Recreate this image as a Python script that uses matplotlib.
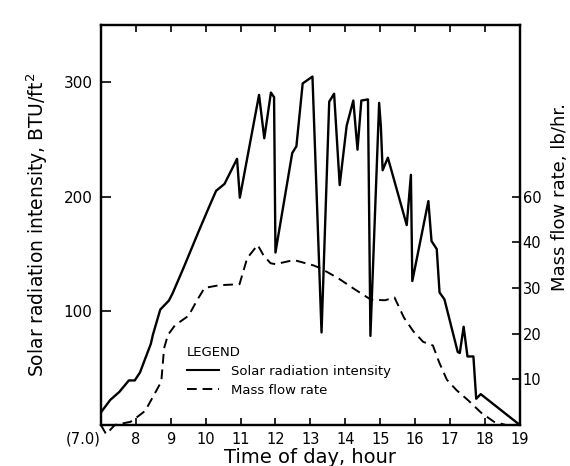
import matplotlib
matplotlib.use("Agg")
import matplotlib.pyplot as plt
from matplotlib.lines import Line2D

# solar radiation intensity (BTU/ft^2)
solar_hour = [7.0, 7.27, 7.53, 7.8, 7.97, 8.12, 8.43, 8.49, 8.7, 8.95, 9.05, 9.36,
              9.78, 10.1, 10.3, 10.54, 10.9, 10.98, 11.53, 11.68, 11.87, 11.96, 12.0,
              12.48, 12.6, 12.78, 13.06, 13.32, 13.54, 13.68, 13.84, 14.04, 14.23,
              14.35, 14.46, 14.65, 14.72, 14.97, 15.02, 15.07, 15.22, 15.76, 15.88,
              15.92, 16.38, 16.47, 16.62, 16.7, 16.84, 17.22, 17.28, 17.39, 17.5,
              17.67, 17.75, 17.88, 19.0]
solar_value = [11, 22, 29, 39, 39, 46, 71, 79, 101, 109, 115, 137,
               168, 191, 205, 211, 233, 199, 289, 251, 291, 287, 151,
               238, 244, 299, 305, 81, 283, 290, 210, 262, 284,
               241, 284, 285, 78, 282, 261, 223, 234, 175, 219,
               126, 196, 161, 154, 116, 110, 64, 63, 86, 60,
               60, 23, 27, 0]

# mass flow rate (lb/hr)
mass_hour = [7.0, 7.15, 7.4, 7.85, 7.98, 8.27, 8.58, 8.73, 8.81, 8.92, 9.12, 9.51,
             9.77, 9.97, 10.4, 10.97, 11.19, 11.49, 11.66, 11.86, 12.0, 12.53, 13.1,
             13.29, 13.8, 14.27, 14.74, 15.14, 15.41, 15.68, 15.95, 16.23, 16.51,
             16.69, 16.91, 17.19, 17.52, 17.89, 18.26, 18.6]
mass_value = [0, -2, 0, 0.7, 1.4, 3.1, 7.4, 9.5, 16.8, 19.7, 21.8, 23.9,
              27.5, 30.0, 30.6, 30.8, 36.5, 39.4, 37.1, 35.4, 35.2, 36.1, 34.9,
              34.3, 32.1, 29.7, 27.4, 27.3, 27.9, 23.5, 20.5, 18.2, 17.4,
              13.7, 9.9, 7.6, 5.4, 2.7, 0.7, 0]

x_ticks = list(range(7, 20))
x_labels = ["(7.0)"] + [str(h) for h in range(8, 20)]
left_ticks = [100, 200, 300]
right_ticks = [10, 20, 30, 40, 50]
right_labels = ["10", "20", "30", "40", "60"]

fig = plt.figure(figsize=(5.7, 4.66), dpi=100)
ax = fig.add_axes([0.177, 0.088, 0.735, 0.858])
ax2 = ax.twinx()

ax.plot(solar_hour, solar_value, color="black", lw=1.7)
ax2.plot(mass_hour, mass_value, color="black", lw=1.4, dashes=(5, 3), clip_on=False)

ax.set_xlim(7, 19)
ax.set_ylim(0, 350)
ax2.set_ylim(0, 87.5)

ax.set_xticks(x_ticks)
ax.set_xticklabels(x_labels, fontsize=10.5)
ax.get_xticklabels()[0].set_ha("right")
ax.set_yticks(left_ticks)
ax.set_yticklabels([str(v) for v in left_ticks], fontsize=11)
ax.tick_params(axis="both", direction="in", length=7, width=1.2, top=True)
ax.tick_params(axis="x", pad=5, length=5)
ax.tick_params(axis="y", pad=6)
ax2.set_yticks(right_ticks)
ax2.set_yticklabels(right_labels, fontsize=10.5)
ax2.tick_params(axis="y", direction="in", length=6, width=1.2, pad=2)

for a in (ax, ax2):
    for s in a.spines.values():
        s.set_linewidth(1.6)

ax.set_xlabel("Time of day, hour", fontsize=14, labelpad=1)
ax.set_ylabel(r"Solar radiation intensity, BTU/ft$^2$", fontsize=13.5, labelpad=10)
ax2.set_ylabel("Mass flow rate, lb/hr.", fontsize=13, rotation=90)
ax2.yaxis.set_label_coords(1.075, 0.57)

handles = [Line2D([], [], color="black", lw=1.5),
           Line2D([], [], color="black", lw=1.4, dashes=(5, 3))]
leg = ax.legend(handles, ["Solar radiation intensity", "Mass flow rate"],
                title="LEGEND", loc="upper left", bbox_to_anchor=(0.19, 0.215),
                frameon=False, fontsize=9.5, title_fontsize=9.5, alignment="left",
                handlelength=2.4, labelspacing=0.45, borderpad=0, handletextpad=0.9)

fig.savefig("out.png", dpi=100)
